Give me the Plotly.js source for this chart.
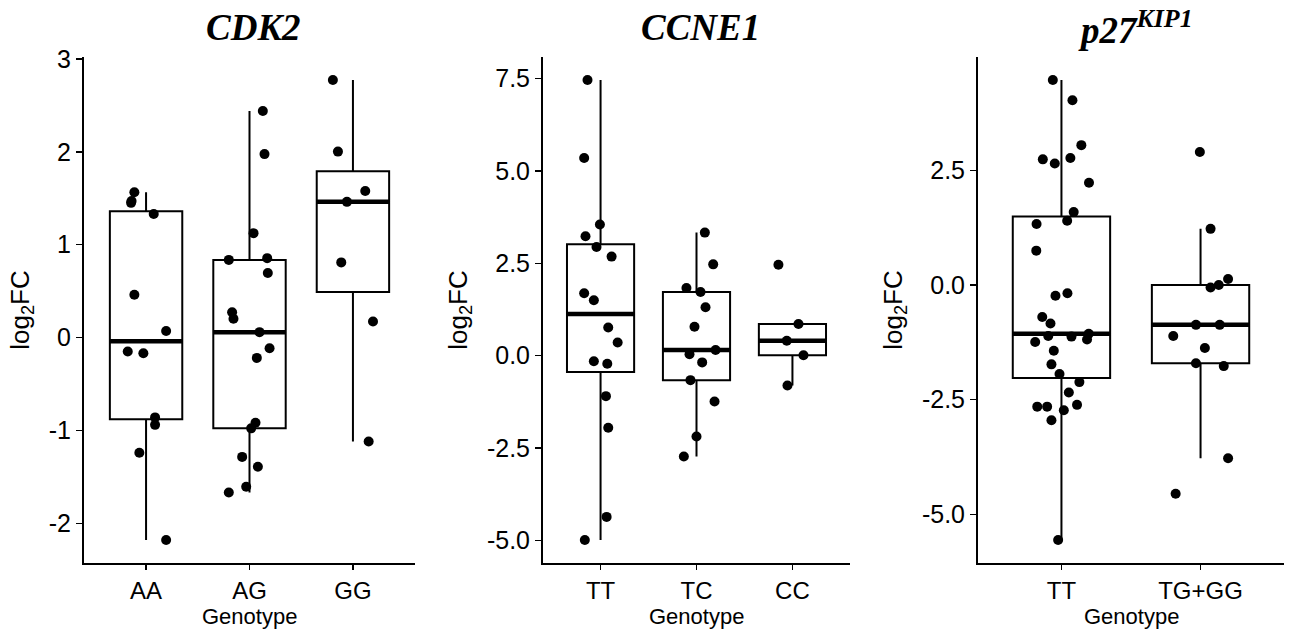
<!DOCTYPE html>
<html>
<head>
<meta charset="utf-8">
<script src="https://cdn.plot.ly/plotly-3.0.1.min.js"></script>
<style>html,body{margin:0;padding:0;background:#fff;}#chart{width:1290px;height:635px;}</style>
</head>
<body>
<div id="chart"></div>
<script>
// ---------- data ----------
const cdk2Genotypes = ["AA", "AG", "GG"];
const cdk2AA = [1.565, 1.45, 1.47, 1.33, 0.46, 0.07, -0.15, -0.17, -0.86, -0.94, -1.24, -2.18];
const cdk2AG = [2.44, 1.975, 1.124, 0.836, 0.855, 0.694, 0.272, 0.203, 0.058, -0.115, -0.219, -0.917, -0.978, -1.285, -1.392, -1.607, -1.669];
const cdk2GG = [2.773, 2.002, 1.577, 1.461, 0.809, 0.173, -1.12];
// horizontal jitter of each point (category units)
const cdk2AAJitter = [-0.113, -0.145, -0.14, 0.074, -0.113, 0.194, -0.177, -0.026, 0.087, 0.087, -0.065, 0.194];
const cdk2AGJitter = [0.129, 0.145, 0.039, -0.2, 0.171, 0.177, -0.168, -0.155, 0.097, 0.194, 0.071, 0.058, 0.016, -0.071, 0.081, -0.032, -0.2];
const cdk2GGJitter = [-0.194, -0.145, 0.119, -0.058, -0.113, 0.194, 0.152];

const ccne1Genotypes = ["TT", "TC", "CC"];
const ccne1TT = [7.46, 5.35, 3.55, 3.23, 2.94, 2.68, 1.69, 1.50, 0.76, 0.356, -0.154, -0.221, -1.096, -1.952, -4.365, -4.99];
const ccne1TC = [3.33, 2.47, 1.83, 1.72, 1.31, 0.78, 0.154, 0.038, -0.183, -0.663, -1.24, -2.19, -2.73];
const ccne1CC = [2.46, 0.856, 0.404, 0.01, -0.81];
const ccne1TTJitter = [-0.136, -0.171, -0.007, -0.157, -0.042, 0.115, -0.171, -0.07, 0.08, 0.178, -0.07, 0.07, 0.056, 0.08, 0.063, -0.164];
const ccne1TCJitter = [0.087, 0.174, -0.105, 0.042, 0.094, -0.021, 0.199, -0.073, 0.059, -0.063, 0.188, 0, -0.132];
const ccne1CCJitter = [-0.146, 0.063, -0.059, 0.115, -0.052];

const p27Genotypes = ["TT", "TG+GG"];
const p27TT = [4.47, 4.03, 3.05, 2.74, 2.65, 2.77, 2.23, 1.59, 1.40, 1.33, 0.75, -0.233, -0.178, -0.698, -0.837, -1.109, -1.124, -1.062, -1.186, -1.24, -1.434, -1.729, -1.938, -2.116, -2.341, -2.651, -2.651, -2.612, -2.729, -2.946, -5.558];
const p27TGGG = [2.90, 1.225, 0.132, 0.0, -0.054, -0.868, -0.868, -1.109, -1.372, -1.705, -1.767, -3.775, -4.55];
const p27TTJitter = [-0.062, 0.079, 0.143, -0.134, -0.048, 0.064, 0.198, 0.088, 0.041, -0.179, -0.181, -0.043, 0.043, -0.138, -0.079, -0.095, 0.072, 0.196, 0.184, -0.189, -0.055, -0.072, -0.014, 0.129, 0.053, -0.174, -0.103, 0.112, 0.017, -0.072, -0.024];
const p27TGGGJitter = [-0.005, 0.072, 0.198, 0.131, 0.072, -0.033, 0.138, -0.196, 0.031, -0.033, 0.167, 0.198, -0.179];

const panelTitles = ["<b><i>CDK2</i></b>", "<b><i>CCNE1</i></b>", "<b><i>p27<sup>KIP1</sup></i></b>"];
const xTitle = "Genotype";
const yTitle = "log<sub>2</sub>FC";
const cdk2TickVals = [-2, -1, 0, 1, 2, 3];
const cdk2TickText = ["-2", "-1", "0", "1", "2", "3"];
const ccne1TickVals = [-5, -2.5, 0, 2.5, 5, 7.5];
const ccne1TickText = ["-5.0", "-2.5", "0.0", "2.5", "5.0", "7.5"];
const p27TickVals = [-5, -2.5, 0, 2.5];
const p27TickText = ["-5.0", "-2.5", "0.0", "2.5"];

// ---------- helpers ----------
function quantile7(arr, p) {
  const s = arr.slice().sort((a, b) => a - b);
  const h = (s.length - 1) * p;
  const lo = Math.floor(h), hi = Math.ceil(h);
  return s[lo] + (h - lo) * (s[hi] - s[lo]);
}
function boxStats(arr) {
  const q1 = quantile7(arr, 0.25), med = quantile7(arr, 0.5), q3 = quantile7(arr, 0.75);
  const iqr = q3 - q1;
  const lo = Math.min(...arr.filter(v => v >= q1 - 1.5 * iqr));
  const hi = Math.max(...arr.filter(v => v <= q3 + 1.5 * iqr));
  return {q1, med, q3, lo, hi};
}

const panels = [
  {groups: [cdk2AA, cdk2AG, cdk2GG], jit: [cdk2AAJitter, cdk2AGJitter, cdk2GGJitter], cats: cdk2Genotypes, tv: cdk2TickVals, tt: cdk2TickText, dom: [84, 415]},
  {groups: [ccne1TT, ccne1TC, ccne1CC], jit: [ccne1TTJitter, ccne1TCJitter, ccne1CCJitter], cats: ccne1Genotypes, tv: ccne1TickVals, tt: ccne1TickText, dom: [543, 850]},
  {groups: [p27TT, p27TGGG], jit: [p27TTJitter, p27TGGGJitter], cats: p27Genotypes, tv: p27TickVals, tt: p27TickText, dom: [978, 1284]}
];

const W = 1290, H = 635;
const yTop = 57, yBot = 563;
const boxW = 0.7;
const traces = [];
const sans = "Liberation Sans, Arial, sans-serif";
const layout = {
  width: W, height: H,
  margin: {l: 0, r: 0, t: 0, b: 0},
  paper_bgcolor: "#ffffff", plot_bgcolor: "#ffffff",
  showlegend: false,
  font: {family: sans, color: "#000000"},
  annotations: []
};

panels.forEach((pn, i) => {
  const xa = i === 0 ? "x" : "x" + (i + 1);
  const ya = i === 0 ? "y" : "y" + (i + 1);
  const xKey = i === 0 ? "xaxis" : "xaxis" + (i + 1);
  const yKey = i === 0 ? "yaxis" : "yaxis" + (i + 1);
  const n = pn.groups.length;
  const stats = pn.groups.map(boxStats);
  const pos = pn.groups.map((g, k) => k + 1);

  traces.push({
    type: "box", xaxis: xa, yaxis: ya,
    x: pos,
    q1: stats.map(s => s.q1), median: stats.map(s => s.med), q3: stats.map(s => s.q3),
    lowerfence: stats.map(s => s.lo), upperfence: stats.map(s => s.hi),
    width: boxW, whiskerwidth: 0, boxpoints: false,
    fillcolor: "#ffffff", line: {color: "#000000", width: 2},
    hoverinfo: "skip"
  });
  // thick median bars
  const mx = [], my = [];
  stats.forEach((s, k) => { mx.push(k + 1 - boxW / 2, k + 1 + boxW / 2, null); my.push(s.med, s.med, null); });
  traces.push({type: "scatter", mode: "lines", xaxis: xa, yaxis: ya, x: mx, y: my,
    line: {color: "#000000", width: 4.5}, hoverinfo: "skip"});
  // jittered points
  const px = [], py = [];
  pn.groups.forEach((g, k) => g.forEach((v, j) => { px.push(k + 1 + pn.jit[k][j]); py.push(v); }));
  traces.push({type: "scatter", mode: "markers", xaxis: xa, yaxis: ya, x: px, y: py,
    marker: {color: "#000000", size: 10}, hoverinfo: "skip"});

  const all = [].concat(...pn.groups);
  const mn = Math.min(...all), mxv = Math.max(...all), span = mxv - mn;

  layout[xKey] = {
    domain: [pn.dom[0] / W, pn.dom[1] / W], anchor: ya,
    range: [0.4, n + 0.6], tickvals: pos, ticktext: pn.cats,
    showline: true, linecolor: "#000000", linewidth: 2, mirror: false,
    ticks: "outside", ticklen: 5, tickwidth: 1.5, tickcolor: "#000000",
    showgrid: false, zeroline: false,
    tickfont: {size: 24, color: "#000000", family: sans}
  };
  layout[yKey] = {
    domain: [1 - yBot / H, 1 - yTop / H], anchor: xa,
    range: [mn - 0.05 * span, mxv + 0.05 * span],
    tickvals: pn.tv, ticktext: pn.tt,
    showline: true, linecolor: "#000000", linewidth: 2,
    ticks: "outside", ticklen: 6, tickwidth: 1.5, tickcolor: "#000000",
    showgrid: false, zeroline: false,
    tickfont: {size: 25, color: "#000000", family: sans},
    title: {text: yTitle, font: {size: 26, color: "#000000", family: sans}, standoff: 12}
  };
  layout.annotations.push({
    xref: "paper", yref: "paper",
    x: ((pn.dom[0] + pn.dom[1]) / 2 + 4) / W, y: 1 - 27 / H,
    xanchor: "center", yanchor: "middle",
    text: panelTitles[i], showarrow: false,
    font: {family: "Liberation Serif, Times New Roman, serif", size: 37, color: "#000000"}
  });
  layout.annotations.push({
    xref: "paper", yref: "paper",
    x: (pn.dom[0] + pn.dom[1]) / 2 / W, y: 1 - 616 / H,
    xanchor: "center", yanchor: "middle",
    text: xTitle, showarrow: false,
    font: {family: sans, size: 22, color: "#000000"}
  });
});

Plotly.newPlot("chart", traces, layout, {displayModeBar: false, staticPlot: true});
</script>
</body>
</html>
